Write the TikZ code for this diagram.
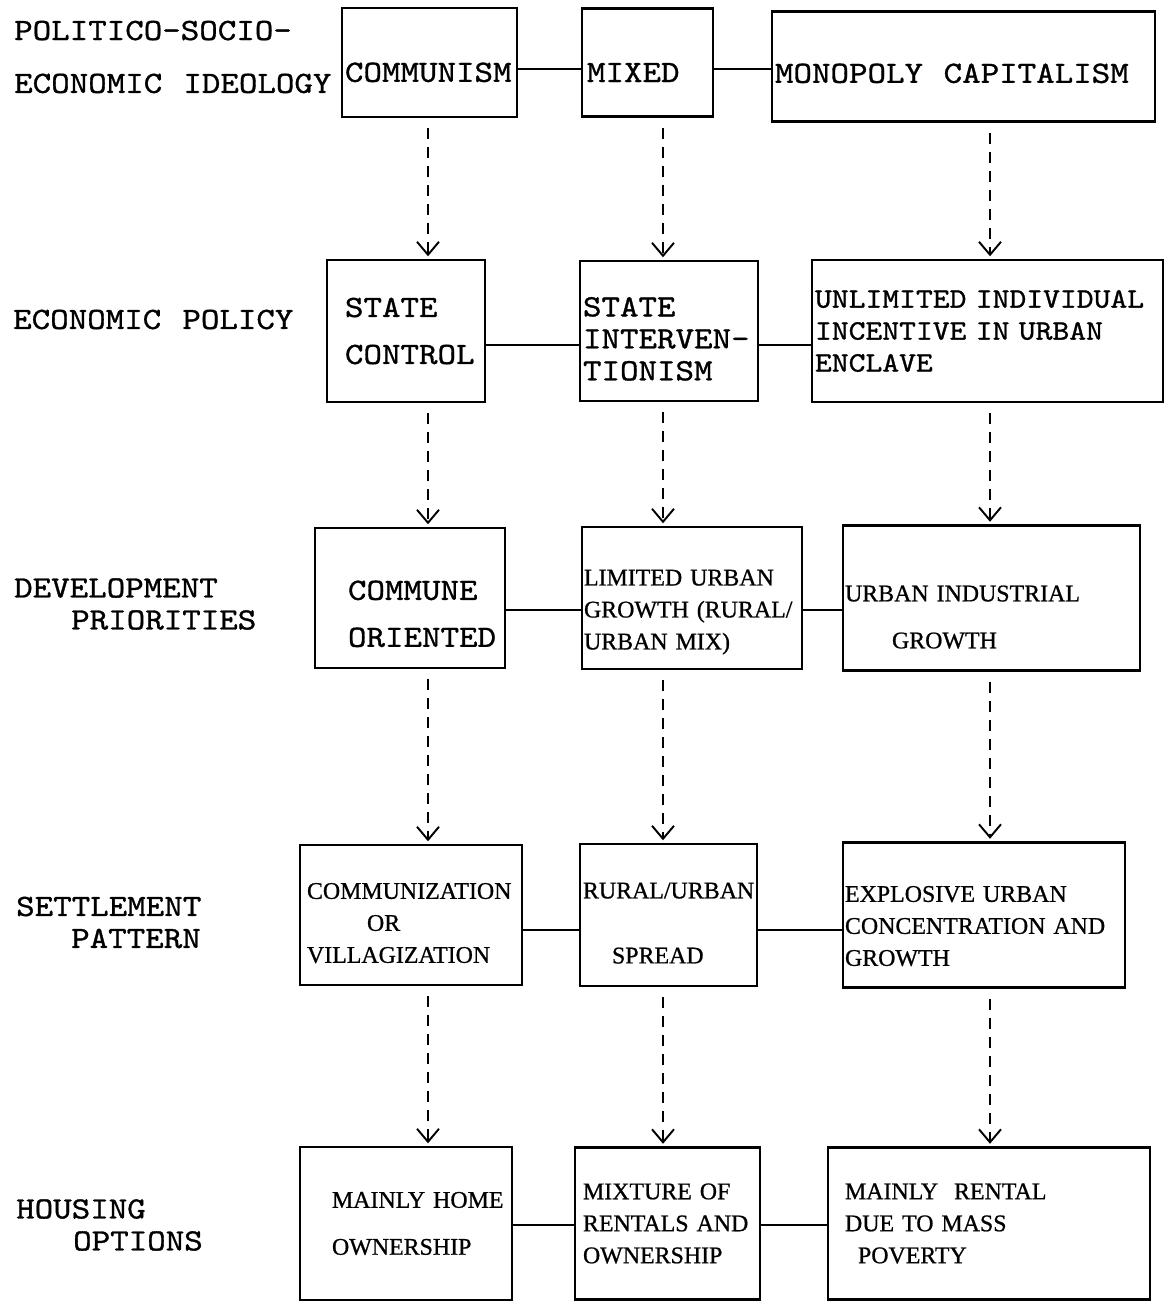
\documentclass[tikz,border=0pt]{standalone}
\usepackage{fontspec}
\usetikzlibrary{arrows.meta}
\newfontfamily\typerfont{lmmono10-regular.otf}[FakeStretch=1.14,FakeBold=1.0,WordSpace={1.14,0,0}]
\newfontfamily\elitefont{Liberation Serif}[FakeBold=0.8]
\tikzstyle{box} = [draw, rectangle, align=left, inner ysep=0pt, line width=1.4pt]
\tikzstyle{elite} = [font={\elitefont\fontsize{13.6pt}{18.2pt}\selectfont}]
\tikzstyle{narrow} = [font={\typerfont\fontsize{16pt}{18.2pt}\selectfont}]
\tikzstyle{drop} = [execute at begin node={\rule{0pt}{#1}}]
\tikzstyle{link} = [draw, line width=1.4pt]
\tikzstyle{flow} = [draw, ->, line width=1.5pt, dash pattern=on 2.2mm off 1.6mm, shorten <=2mm, shorten >=0.5mm]

\begin{document}
\begin{tikzpicture}[auto, node distance=5cm,>={Straight Barb[length=2.6mm,width=4.4mm,line width=1.1pt]}]
    \tikzset{font={\typerfont\fontsize{17.6pt}{18.2pt}\selectfont}}
    \useasboundingbox (0,0) rectangle (23.44,-26.06);

    % row labels
    \node [anchor=west, align=left] (ideo) at (0.16,-1.14) {POLITICO-SOCIO-\\[11.9pt]ECONOMIC IDEOLOGY};
    \node [anchor=west, align=left] (pol) at (0.14,-6.39) {ECONOMIC POLICY};
    \node [anchor=west, align=left] (prio) at (0.16,-12.08) {DEVELOPMENT\\\hspace*{1.14cm}PRIORITIES};
    \node [anchor=west, align=left] (sett) at (0.20,-18.45) {SETTLEMENT\\\hspace*{1.10cm}PATTERN};
    \node [anchor=west, align=left] (hous) at (0.20,-24.50) {HOUSING\\\hspace*{1.14cm}OPTIONS};

    % ideology
    \node [box, drop=0.78cm, text width=3.38cm, inner xsep=0.06cm, minimum height=2.18cm] (comm) at (8.59,-1.25) {COMMUNISM};
    \node [box, drop=0.78cm, right of=comm, node distance=4.36cm, text width=2.42cm, inner xsep=0.1cm, minimum height=2.16cm] (mixed) {MIXED};
    \node [box, drop=0.66cm, right of=mixed, node distance=6.32cm, text width=7.54cm, inner xsep=0.06cm, minimum height=2.2cm, yshift=-0.08cm] (mono) {MONOPOLY~~CAPITALISM};

    % policy
    \node [box, below of=comm, node distance=5.37cm, xshift=-0.47cm, text width=2.44cm, inner xsep=0.36cm, minimum height=2.84cm] (sc) {STATE\\[3mm]CONTROL};
    \node [box, drop=0.7cm, right of=sc, node distance=5.26cm, text width=3.44cm, inner xsep=0.06cm, minimum height=2.8cm] (sti) {STATE\\INTERVEN-\\TIONISM};
    \node [box, narrow, right of=sti, node distance=6.37cm, text width=6.9cm, inner xsep=0.06cm, minimum height=2.84cm] (unl) {UNLIMITED~INDIVIDUAL\\INCENTIVE~IN~URBAN\\ENCLAVE};

    % priorities
    \node [box, drop=1.02cm, below of=sc, node distance=5.34cm, xshift=0.08cm, text width=2.48cm, inner xsep=0.66cm, minimum height=2.8cm] (co) {COMMUNE\\[3mm]ORIENTED};
    \node [box, elite, drop=0.88cm, right of=co, node distance=5.64cm, text width=4.32cm, inner xsep=0.04cm, minimum height=2.84cm] (lug) {LIMITED~URBAN\\GROWTH~(RURAL/\\URBAN~MIX)};
    \node [box, elite, drop=1.08cm, right of=lug, node distance=5.99cm, text width=5.86cm, inner xsep=0.04cm, minimum height=2.9cm] (uig) {URBAN~INDUSTRIAL\\[3mm]\hspace*{0.94cm}GROWTH};

    % settlement
    \node [box, elite, drop=0.64cm, below of=co, node distance=6.34cm, xshift=0.02cm, text width=4.16cm, inner xsep=0.14cm, minimum height=2.8cm] (cmz) {COMMUNIZATION\\\hspace*{1.2cm}OR\\VILLAGIZATION};
    \node [box, elite, drop=0.64cm, right of=cmz, node distance=5.15cm, text width=3.42cm, inner xsep=0.06cm, minimum height=2.84cm] (rus) {RURAL/URBAN\\[6.6mm]\hspace*{0.58cm}SPREAD};
    \node [box, elite, drop=0.76cm, right of=rus, node distance=6.31cm, text width=5.56cm, inner xsep=0.04cm, minimum height=2.9cm] (euc) {EXPLOSIVE~URBAN\\CONCENTRATION~AND\\GROWTH};

    % housing
    \node [box, elite, below of=cmz, node distance=6.17cm, xshift=-0.1cm, text width=2.96cm, inner xsep=0.64cm, minimum height=3.06cm] (mho) {MAINLY~HOME\\[3mm]OWNERSHIP};
    \node [box, elite, right of=mho, node distance=5.23cm, text width=3.38cm, inner xsep=0.16cm, minimum height=3.04cm] (mix) {MIXTURE~OF\\RENTALS~AND\\OWNERSHIP};
    \node [box, elite, right of=mix, node distance=6.43cm, text width=5.76cm, inner xsep=0.34cm, minimum height=3.04cm] (mr) {MAINLY~~RENTAL\\DUE~TO~MASS\\\hspace*{0.26cm}POVERTY};

    % where the lines run
    \coordinate (colA) at (8.56,0);
    \coordinate (colB) at (13.26,0);
    \coordinate (colC) at (19.80,0);
    \coordinate (linkA) at (0,-1.38);
    \coordinate (linkB) at (0,-6.90);
    \coordinate (linkC) at (0,-12.20);
    \coordinate (linkD) at (0,-18.60);
    \coordinate (linkE) at (0,-24.50);

    \draw [link] (comm.east |- linkA) -- (mixed.west |- linkA);
    \draw [link] (mixed.east |- linkA) -- (mono.west |- linkA);
    \draw [link] (sc.east |- linkB) -- (sti.west |- linkB);
    \draw [link] (sti.east |- linkB) -- (unl.west |- linkB);
    \draw [link] (co.east |- linkC) -- (lug.west |- linkC);
    \draw [link] (lug.east |- linkC) -- (uig.west |- linkC);
    \draw [link] (cmz.east |- linkD) -- (rus.west |- linkD);
    \draw [link] (rus.east |- linkD) -- (euc.west |- linkD);
    \draw [link] (mho.east |- linkE) -- (mix.west |- linkE);
    \draw [link] (mix.east |- linkE) -- (mr.west |- linkE);

    \draw [flow] (comm.south -| colA) -- (sc.north -| colA);
    \draw [flow] (sc.south -| colA) -- (co.north -| colA);
    \draw [flow] (co.south -| colA) -- (cmz.north -| colA);
    \draw [flow] (cmz.south -| colA) -- (mho.north -| colA);
    \draw [flow] (mixed.south -| colB) -- (sti.north -| colB);
    \draw [flow] (sti.south -| colB) -- (lug.north -| colB);
    \draw [flow] (lug.south -| colB) -- (rus.north -| colB);
    \draw [flow] (rus.south -| colB) -- (mix.north -| colB);
    \draw [flow] (mono.south -| colC) -- (unl.north -| colC);
    \draw [flow] (unl.south -| colC) -- (uig.north -| colC);
    \draw [flow] (uig.south -| colC) -- (euc.north -| colC);
    \draw [flow] (euc.south -| colC) -- (mr.north -| colC);
\end{tikzpicture}
\end{document}
